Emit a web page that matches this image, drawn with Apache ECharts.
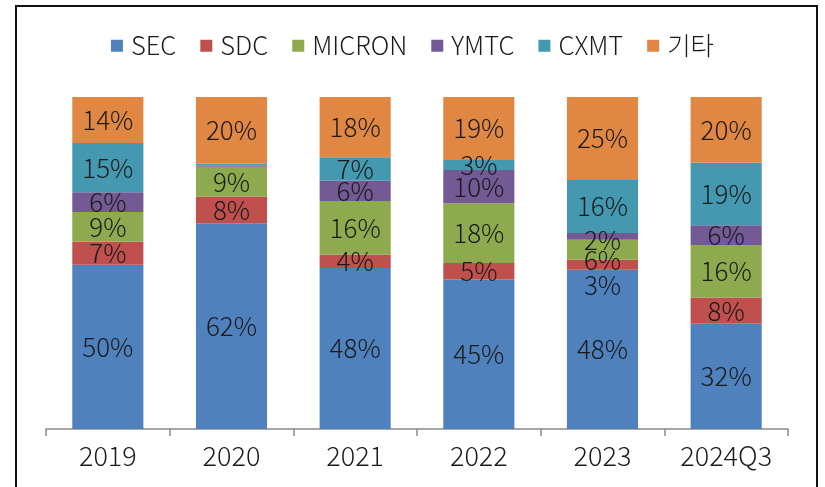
<!DOCTYPE html>
<html>
<head>
<meta charset="utf-8">
<script src="https://cdn.jsdelivr.net/npm/echarts@6/dist/echarts.min.js"></script>
<style>html,body{margin:0;padding:0;background:#fff}#c{width:825px;height:487px}</style>
</head>
<body>
<div id="c"></div>
<script>
const categories = ['2019', '2020', '2021', '2022', '2023', '2024Q3'];
const seriesNames = ['SEC', 'SDC', 'MICRON', 'YMTC', 'CXMT', '기타'];
const SEC    = [50, 62, 48, 45, 48, 32];
const SDC    = [7, 8, 4, 5, 3, 8];
const MICRON = [9, 9, 16, 18, 6, 16];
const YMTC   = [6, 0.4, 6, 10, 2, 6];
const CXMT   = [15, 0.6, 7, 3, 16, 19];
const OTHER  = [14, 20, 18, 19, 25, 20];
const hiddenLabels = {YMTC: [1], CXMT: [1]};

const colors = ['#4F81BD', '#C0504D', '#8EAA4F', '#745A95', '#4499B1', '#E08843'];
const labelOffsets = {SDC: {4: 20}, MICRON: {4: 10}, YMTC: {4: 4}};

const all = [SEC, SDC, MICRON, YMTC, CXMT, OTHER];
const totals = categories.map((_, i) => all.reduce((s, a) => s + a[i], 0));
const FONT = '"Noto Sans CJK KR", "Noto Sans", sans-serif';

const series = seriesNames.map((name, k) => ({
  name, type: 'bar', stack: 'total', barCategoryGap: '42.5%',
  itemStyle: {color: colors[k]},
  data: all[k].map((v, i) => {
    const hidden = (hiddenLabels[name] || []).includes(i);
    const off = (labelOffsets[name] || {})[i] || 0;
    return {
      value: v / totals[i] * 100,
      raw: v,
      label: {show: !hidden, offset: [0, off]}
    };
  }),
  label: {
    show: true, position: 'inside', color: '#1a1a1a', fontSize: 26, fontFamily: FONT, fontWeight: 300,
    formatter: p => p.data.raw + '%'
  }
}));

const chart = echarts.init(document.getElementById('c'), null, {renderer: 'canvas'});
chart.setOption({
  animation: false,
  color: colors,
  legend: {
    top: 28, left: 'center', itemWidth: 12, itemHeight: 12, itemGap: 24,
    icon: 'rect',
    textStyle: {fontSize: 25.5, fontFamily: FONT, fontWeight: 300, color: '#1a1a1a', padding: [0, 0, 0, 3]},
    data: seriesNames
  },
  grid: {left: 46, right: 37, top: 97, bottom: 58},
  xAxis: {
    type: 'category', data: categories,
    axisLine: {lineStyle: {color: '#8a8a8a', width: 1.5}},
    axisTick: {show: true, length: 7, lineStyle: {color: '#8a8a8a', width: 1.5}},
    axisLabel: {fontSize: 27, fontFamily: FONT, fontWeight: 300, color: '#1a1a1a', margin: 13}
  },
  yAxis: {type: 'value', min: 0, max: 100, show: false},
  graphic: [{
    type: 'rect', shape: {x: 16, y: 6, width: 801, height: 500},
    style: {fill: 'none', stroke: '#111', lineWidth: 2}
  }],
  series
});
</script>
</body>
</html>
